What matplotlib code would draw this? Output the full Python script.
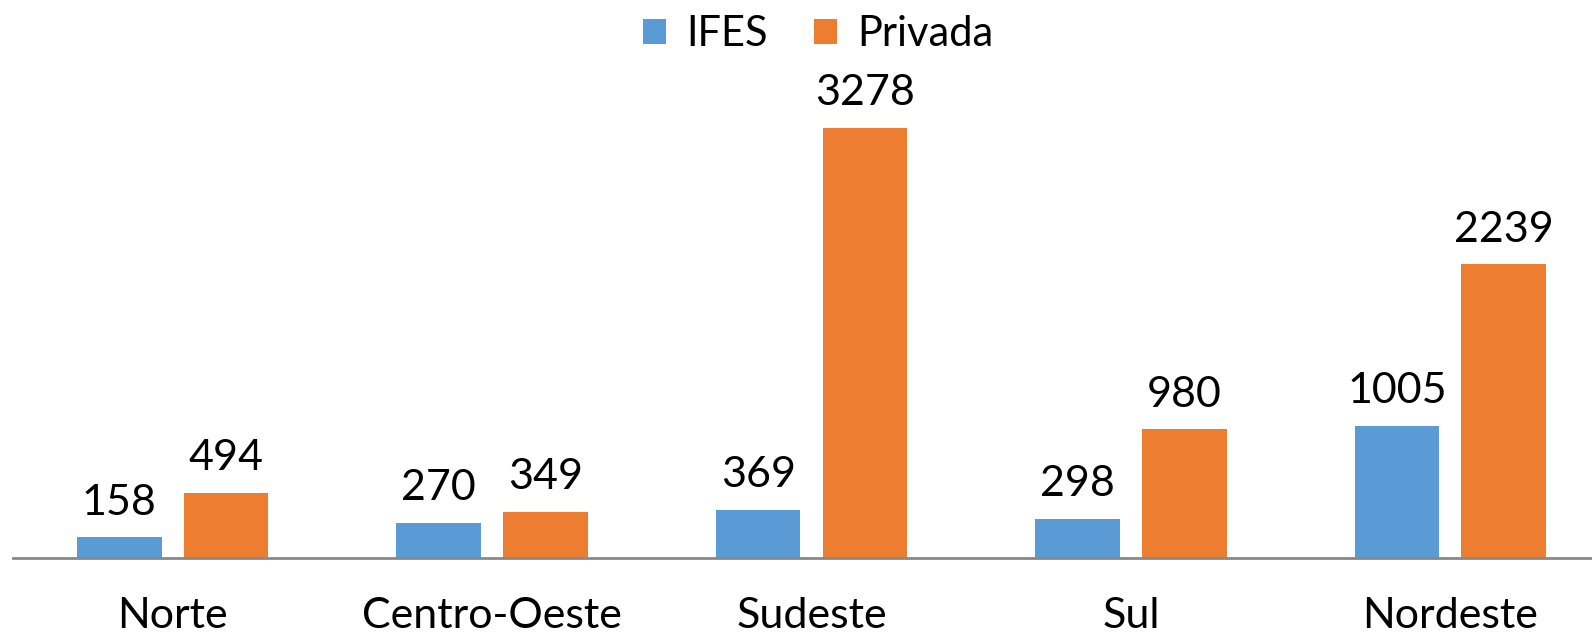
import numpy as np
import matplotlib.pyplot as plt

plt.rcParams['font.family'] = ['Lato', 'DejaVu Sans']

regions = ['Norte', 'Centro-Oeste', 'Sudeste', 'Sul', 'Nordeste']
ifes = [158, 270, 369, 298, 1005]
privada = [494, 349, 3278, 980, 2239]

fig = plt.figure(figsize=(15.92, 6.4), dpi=100)
ax = fig.add_axes([13 / 1592, 1 - 558 / 640, 1597 / 1592, 558 / 640])

x = np.arange(len(regions))
w = 0.265
off = 0.167
b1 = ax.bar(x - off, ifes, width=w, color='#5B9BD5', label='IFES')
b2 = ax.bar(x + off, privada, width=w, color='#ED7D31', label='Privada')

for bars in (b1, b2):
    for b in bars:
        ax.text(b.get_x() + b.get_width() / 2, b.get_height() + 120, str(int(b.get_height())),
                ha='center', va='bottom', fontsize=31)

ax.set_xlim(-0.5, 4.5)
ax.set_ylim(0, 558 / 430 * 3278)
ax.set_xticks(x)
ax.set_xticklabels(regions, fontsize=31)
ax.tick_params(axis='x', length=0, pad=28)
ax.set_yticks([])
for s in ['top', 'right', 'left']:
    ax.spines[s].set_visible(False)
ax.spines['bottom'].set_color('#898989')
ax.spines['bottom'].set_linewidth(2)

fig.legend(loc='upper center', bbox_to_anchor=(0.514, 1.035), ncol=2, frameon=False,
           fontsize=30, handlelength=0.55, handleheight=0.55, handletextpad=0.5, columnspacing=1.1)

fig.savefig('out.png', dpi=100)
